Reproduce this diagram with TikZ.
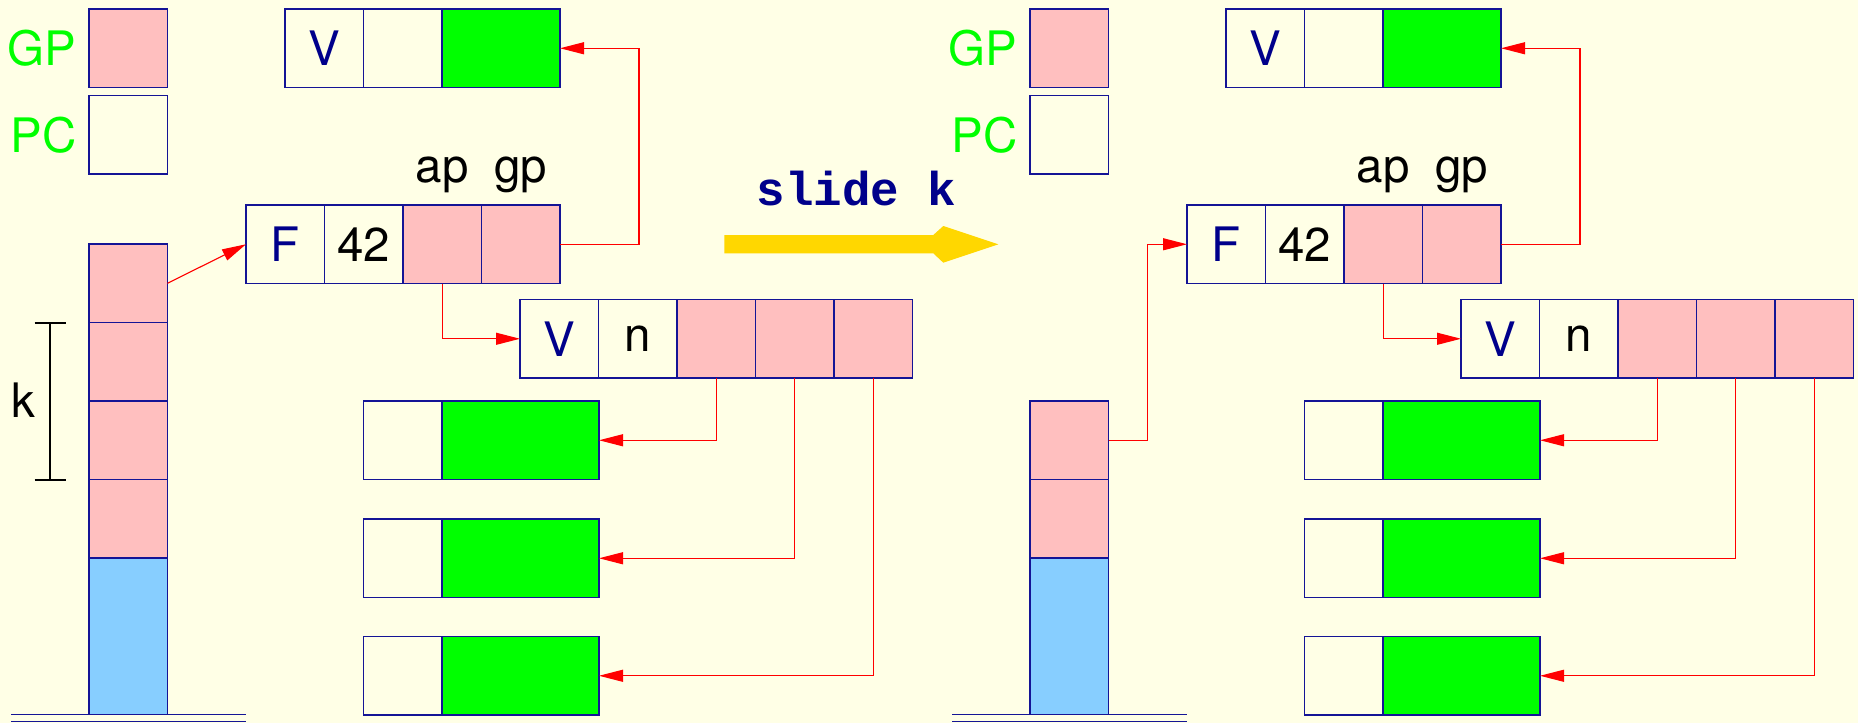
\documentclass[tikz,border=0pt]{standalone}
\usepackage{fontspec}
\setmainfont{TeX Gyre Heros}
\newfontfamily\slidefont{Liberation Mono}
\usetikzlibrary{arrows.meta}
\definecolor{bgc}{RGB}{255,255,230}
\definecolor{pinkc}{RGB}{255,191,191}
\definecolor{greenc}{RGB}{0,255,0}
\definecolor{bluec}{RGB}{135,206,255}
\definecolor{bord}{RGB}{20,20,150}
\definecolor{navtext}{RGB}{0,0,139}
\definecolor{goldc}{RGB}{255,215,0}
\tikzset{
  cell/.style={draw=bord, line width=0.55pt, minimum width=31.4pt, minimum height=31.4pt,
    inner sep=0pt, outer sep=0pt, anchor=north west, font=\fontsize{19}{19}\selectfont},
  pcell/.style={cell, fill=pinkc},
  gcell/.style={cell, fill=greenc},
  bcell/.style={cell, fill=bluec},
  navcell/.style={cell, text=navtext},
  reglab/.style={inner sep=0pt, text=greenc, font=\fontsize{19}{19}\selectfont},
  lab/.style={inner sep=0pt, font=\fontsize{19}{19}\selectfont},
  conn/.style={draw=red, line width=0.45pt, -{Triangle[length=9.6pt,width=4.8pt]}},
  gline/.style={draw=bord, line width=0.55pt},
  kline/.style={draw=black, line width=0.8pt},
}
\newcommand{\heapside}[2]{%
\begin{scope}[xshift=#2]
  \node[pcell] (#1gp) at (89,9) {};
  \node[cell] (#1pc) at (89,95.5) {};
  \node[reglab, anchor=east] (#1gpl) at ([xshift=-4.8pt]#1gp.west) {GP};
  \node[reglab, anchor=east] (#1pcl) at ([xshift=-4.8pt]#1pc.west) {PC};
  % top V record
  \node[navcell] (#1tv) at (285,9) {V};
  \node[cell] (#1tb) at (#1tv.north east) {};
  \node[gcell, minimum width=47.2pt] (#1tg) at (#1tb.north east) {};
  % F record
  \node[navcell] (#1F) at (246,205) {F};
  \node[cell] (#1ft) at (#1F.north east) {42};
  \node[pcell] (#1ap) at (#1ft.north east) {};
  \node[pcell] (#1gpc) at (#1ap.north east) {};
  \node[lab, anchor=base] (#1apl) at ([yshift=9.2pt]#1ap.north) {ap};
  \node[lab, anchor=base] (#1gpl2) at ([yshift=9.2pt]#1gpc.north) {gp};
  % lower V record
  \node[navcell] (#1lv) at (520,299.5) {V};
  \node[cell] (#1ln) at (#1lv.north east) {n};
  \node[pcell] (#1p1) at (#1ln.north east) {};
  \node[pcell] (#1p2) at (#1p1.north east) {};
  \node[pcell] (#1p3) at (#1p2.north east) {};
  % green records
  \node[cell] (#1w1) at (363.5,401) {};
  \node[gcell, minimum width=62.8pt] (#1g1) at (#1w1.north east) {};
  \node[cell] (#1w2) at (363.5,519) {};
  \node[gcell, minimum width=62.8pt] (#1g2) at (#1w2.north east) {};
  \node[cell] (#1w3) at (363.5,636.5) {};
  \node[gcell, minimum width=62.8pt] (#1g3) at (#1w3.north east) {};
  % connectors
  \coordinate (#1gpturn) at (639,120);
  \draw[conn] (#1ap.south) |- (#1lv.west);
  \draw[conn] (#1gpc.east) -| (#1gpturn) |- (#1tg.east);
  \draw[conn] (#1p1.south) |- (#1g1.east);
  \draw[conn] (#1p2.south) |- (#1g2.east);
  \draw[conn] (#1p3.south) |- (#1g3.east);
  % ground
  \draw[gline] (11,714.5) -- (246,714.5);
  \draw[gline] (11,721.7) -- (246,721.7);
\end{scope}}
\begin{document}
\begin{tikzpicture}[x=0.4pt,y=-0.4pt]
\fill[bgc] (0,0) rectangle (1858,723);
\useasboundingbox (0,0) rectangle (1858,723);
\heapside{l}{0pt}
\heapside{r}{376.4pt}
% left stack
\node[pcell] (ls1) at (89,244) {};
\node[pcell] (ls2) at (ls1.south west) {};
\node[pcell] (ls3) at (ls2.south west) {};
\node[pcell] (ls4) at (ls3.south west) {};
\node[bcell, minimum height=62.6pt] (ls5) at (ls4.south west) {};
\draw[conn] (ls1.east) -- (lF.west);
% k bracket
\coordinate (ktop) at (50,322.5);
\coordinate (kbot) at (50,479.5);
\draw[kline] (ktop) -- (kbot);
\draw[kline] ([xshift=-6.2pt]ktop) -- ([xshift=6.2pt]ktop);
\draw[kline] ([xshift=-6.2pt]kbot) -- ([xshift=6.2pt]kbot);
\node[lab] (klab) at (23.7,400) {k};
% right stack
\node[pcell] (rs1) at (1030,401) {};
\node[pcell] (rs2) at (rs1.south west) {};
\node[bcell, minimum height=62.6pt] (rs3) at (rs2.south west) {};
\coordinate (rturn) at (1147.5,340);
\draw[conn] (rs1.east) -| (rturn) |- (rF.west);
% slide arrow
\fill[goldc] (724.3,235) -- (933.3,235) -- (943.3,226) -- (998.3,244.3) -- (943.3,262.7) -- (933.3,253.3) -- (724.3,253.3) -- cycle;
\node[anchor=base, inner sep=0pt, text=navtext, font=\slidefont\bfseries\fontsize{19}{19}\selectfont] (slide) at (856.3,205) {slide k};
\end{tikzpicture}
\end{document}
